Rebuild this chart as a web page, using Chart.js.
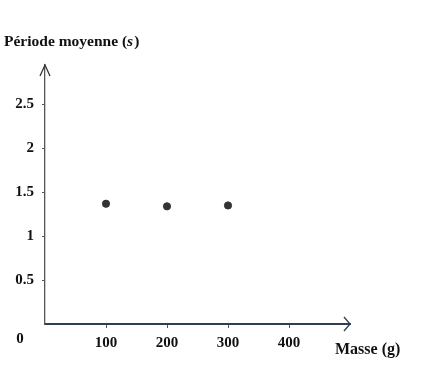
<!DOCTYPE html>
<html><head><meta charset="utf-8">
<script src="https://cdn.jsdelivr.net/npm/chart.js@4.4.0/dist/chart.umd.min.js"></script>
<style>html,body{margin:0;padding:0;background:#fff}#wrap{width:443px;height:391px}</style>
</head><body><div id="wrap"><canvas id="c" width="443" height="391"></canvas></div>
<script>
const masses = [100, 200, 300];
const periods = [1.37, 1.34, 1.35];
const xTicks = [100, 200, 300, 400];
const yTicks = [0.5, 1, 1.5, 2, 2.5];
const yTitle = "Période moyenne (s)";
const xTitle = "Masse (g)";

const FONT = '"Liberation Serif", "Times New Roman", serif';

const deco = {
  id: 'deco',
  afterDraw(chart) {
    const ctx = chart.ctx;
    const xs = chart.scales.x, ys = chart.scales.y;
    const x0 = xs.getPixelForValue(0), y0 = ys.getPixelForValue(0);
    const xEnd = xs.getPixelForValue(xs.max), yEnd = ys.getPixelForValue(ys.max);
    ctx.save();
    ctx.lineWidth = 1.3;
    ctx.strokeStyle = '#333';
    ctx.beginPath();
    ctx.moveTo(x0 - 5, yEnd + 11); ctx.lineTo(x0, yEnd); ctx.lineTo(x0 + 5, yEnd + 11);
    ctx.stroke();
    ctx.strokeStyle = '#2f3d55';
    ctx.beginPath();
    ctx.moveTo(xEnd - 6, y0 - 7); ctx.lineTo(xEnd, y0); ctx.lineTo(xEnd - 6, y0 + 7);
    ctx.stroke();
    ctx.fillStyle = '#111';
    ctx.font = 'bold 15px ' + FONT;
    ctx.textAlign = 'center';
    ctx.textBaseline = 'middle';
    ctx.fillText('0', 20, y0 + 15);
    ctx.textAlign = 'left';
    ctx.textBaseline = 'alphabetic';
    ctx.font = 'bold 15.5px ' + FONT;
    const base = yTitle.replace(/\(s\)$/, '(');
    let x = 4, y = 46;
    ctx.fillText(base, x, y);
    x += ctx.measureText(base).width;
    ctx.font = 'bold italic 15.5px ' + FONT;
    ctx.fillText('s', x, y);
    x += ctx.measureText('s').width + 1;
    ctx.font = 'bold 15.5px ' + FONT;
    ctx.fillText(')', x, y);
    ctx.font = 'bold 16px ' + FONT;
    ctx.fillText(xTitle, 335, 354);
    ctx.restore();
  }
};

new Chart(document.getElementById('c'), {
  type: 'scatter',
  data: {
    datasets: [{
      data: masses.map((m, i) => ({x: m, y: periods[i]})),
      backgroundColor: '#333',
      borderColor: '#333',
      pointRadius: 3.6,
      pointHoverRadius: 3.6
    }]
  },
  options: {
    responsive: false,
    animation: false,
    layout: {padding: {top: 65, right: 93, left: 0, bottom: 0}},
    plugins: {legend: {display: false}, tooltip: {enabled: false}},
    scales: {
      x: {
        type: 'linear', min: 0, max: 500,
        afterFit(s) { s.height = 67; },
        afterBuildTicks(s) { s.ticks = xTicks.map(v => ({value: v})); },
        grid: {display: true, drawOnChartArea: false, drawTicks: true, tickLength: 4, color: '#555'},
        border: {display: true, color: '#2f3d55', width: 2},
        ticks: {color: '#111', padding: 6, font: {family: FONT, size: 15, weight: 'bold'},
                callback: v => String(v)}
      },
      y: {
        type: 'linear', min: 0, max: 2.95,
        afterFit(s) { s.width = 45; },
        afterBuildTicks(s) { s.ticks = yTicks.map(v => ({value: v})); },
        grid: {display: true, drawOnChartArea: false, drawTicks: true, tickLength: 3, color: '#555'},
        border: {display: true, color: '#555', width: 1.3},
        ticks: {color: '#111', padding: 8, font: {family: FONT, size: 15, weight: 'bold'},
                callback: v => String(v)}
      }
    }
  },
  plugins: [deco]
});
</script>
</body></html>
